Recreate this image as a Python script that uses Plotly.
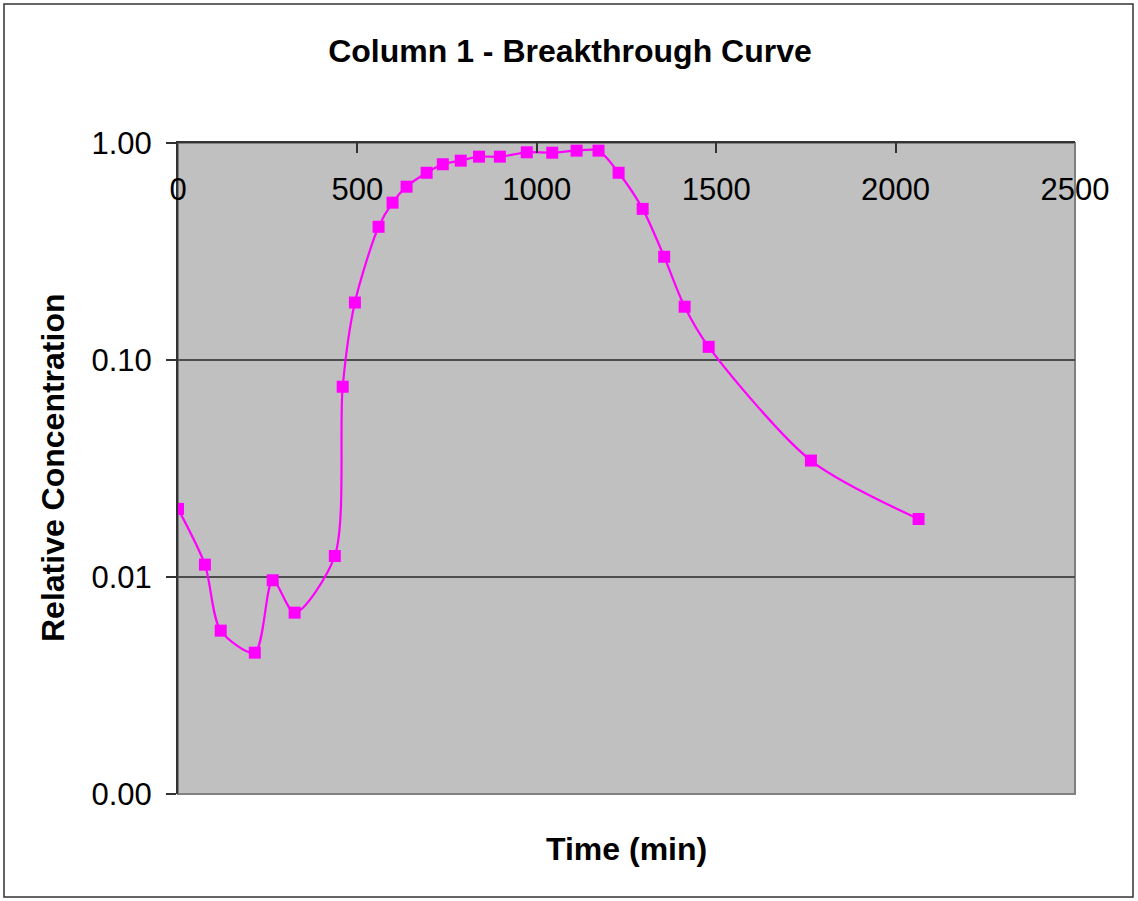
import plotly.graph_objects as go

# Data
time_min = [0, 75, 119, 214, 264, 325, 437, 459, 493, 559, 598, 637, 693, 738,
            788, 839, 897, 972, 1043, 1111, 1172, 1228, 1295, 1355, 1412, 1479,
            1764, 2064]
rel_conc = [0.0206, 0.0114, 0.00566, 0.00448, 0.00966, 0.00685, 0.0125, 0.0753,
            0.184, 0.411, 0.531, 0.629, 0.729, 0.798, 0.829, 0.865, 0.865, 0.906,
            0.902, 0.922, 0.922, 0.729, 0.497, 0.299, 0.176, 0.115, 0.0344, 0.0185]

x_ticks = [0, 500, 1000, 1500, 2000, 2500]
y_tickvals = [0.001, 0.01, 0.1, 1.0]
y_ticktext = ["0.00", "0.01", "0.10", "1.00"]

W, H = 1138, 901
L, R, T, B = 178, 63, 143, 107
pw, ph = W - L - R, H - T - B

FONT = "Liberation Sans, Arial, sans-serif"

fig = go.Figure()
fig.add_trace(go.Scatter(
    x=time_min, y=rel_conc, mode="lines+markers",
    line=dict(color="#FF00FF", width=2.2, shape="spline", smoothing=0.8),
    marker=dict(symbol="square", size=12, color="#FF00FF"),
    showlegend=False,
))

fig.update_layout(
    width=W, height=H,
    margin=dict(l=L, r=R, t=T, b=B, pad=0),
    paper_bgcolor="white", plot_bgcolor="#C0C0C0",
    font=dict(family=FONT, color="black", size=31),
    title=dict(text="<b>Column 1 - Breakthrough Curve</b>", x=570 / W, xanchor="center",
               y=1 - 51 / H, yanchor="middle", font=dict(size=32, family=FONT, color="black")),
    shapes=[
        dict(type="rect", xref="paper", yref="paper", x0=0, x1=1, y0=0, y1=1,
             line=dict(color="#808080", width=2), layer="below"),
        dict(type="rect", xref="paper", yref="paper",
             x0=(4 - L) / pw, x1=(1133 - L) / pw,
             y0=(H - B - 897) / ph, y1=(H - B - 4) / ph,
             line=dict(color="#333333", width=1.5), layer="above"),
    ],
    annotations=[
        dict(text="<b>Time (min)</b>", xref="paper", yref="paper",
             x=0.5, y=(H - B - 849) / ph, xanchor="center", yanchor="middle",
             showarrow=False, font=dict(size=32, family=FONT, color="black")),
        dict(text="<b>Relative Concentration</b>", xref="paper", yref="paper",
             x=(53 - L) / pw, y=(H - B - 468) / ph, xanchor="center", yanchor="middle",
             textangle=-90, showarrow=False, font=dict(size=32, family=FONT, color="black")),
    ],
)

fig.update_xaxes(
    range=[0, 2500], tickvals=x_ticks, ticktext=[str(v) for v in x_ticks],
    side="top", ticks="inside", ticklen=10, tickcolor="#333333", tickwidth=1.5,
    ticklabelposition="inside", ticklabelstandoff=29, ticklabeloverflow="allow",
    showline=True, linecolor="#333333", linewidth=2,
    showgrid=False, zeroline=False,
    tickfont=dict(size=31, family=FONT, color="black"),
)
fig.update_yaxes(
    type="log", range=[-3, 0], tickvals=y_tickvals, ticktext=y_ticktext,
    ticks="outside", ticklen=10, tickcolor="#333333", tickwidth=1.5,
    ticklabelstandoff=8, ticklabeloverflow="allow",
    showline=True, linecolor="#333333", linewidth=2,
    showgrid=True, gridcolor="#4d4d4d", gridwidth=1.5, zeroline=False,
    tickfont=dict(size=31, family=FONT, color="black"),
)

fig.write_html("out.html", config={"displayModeBar": False},
               post_script="document.body.style.margin='0';")
